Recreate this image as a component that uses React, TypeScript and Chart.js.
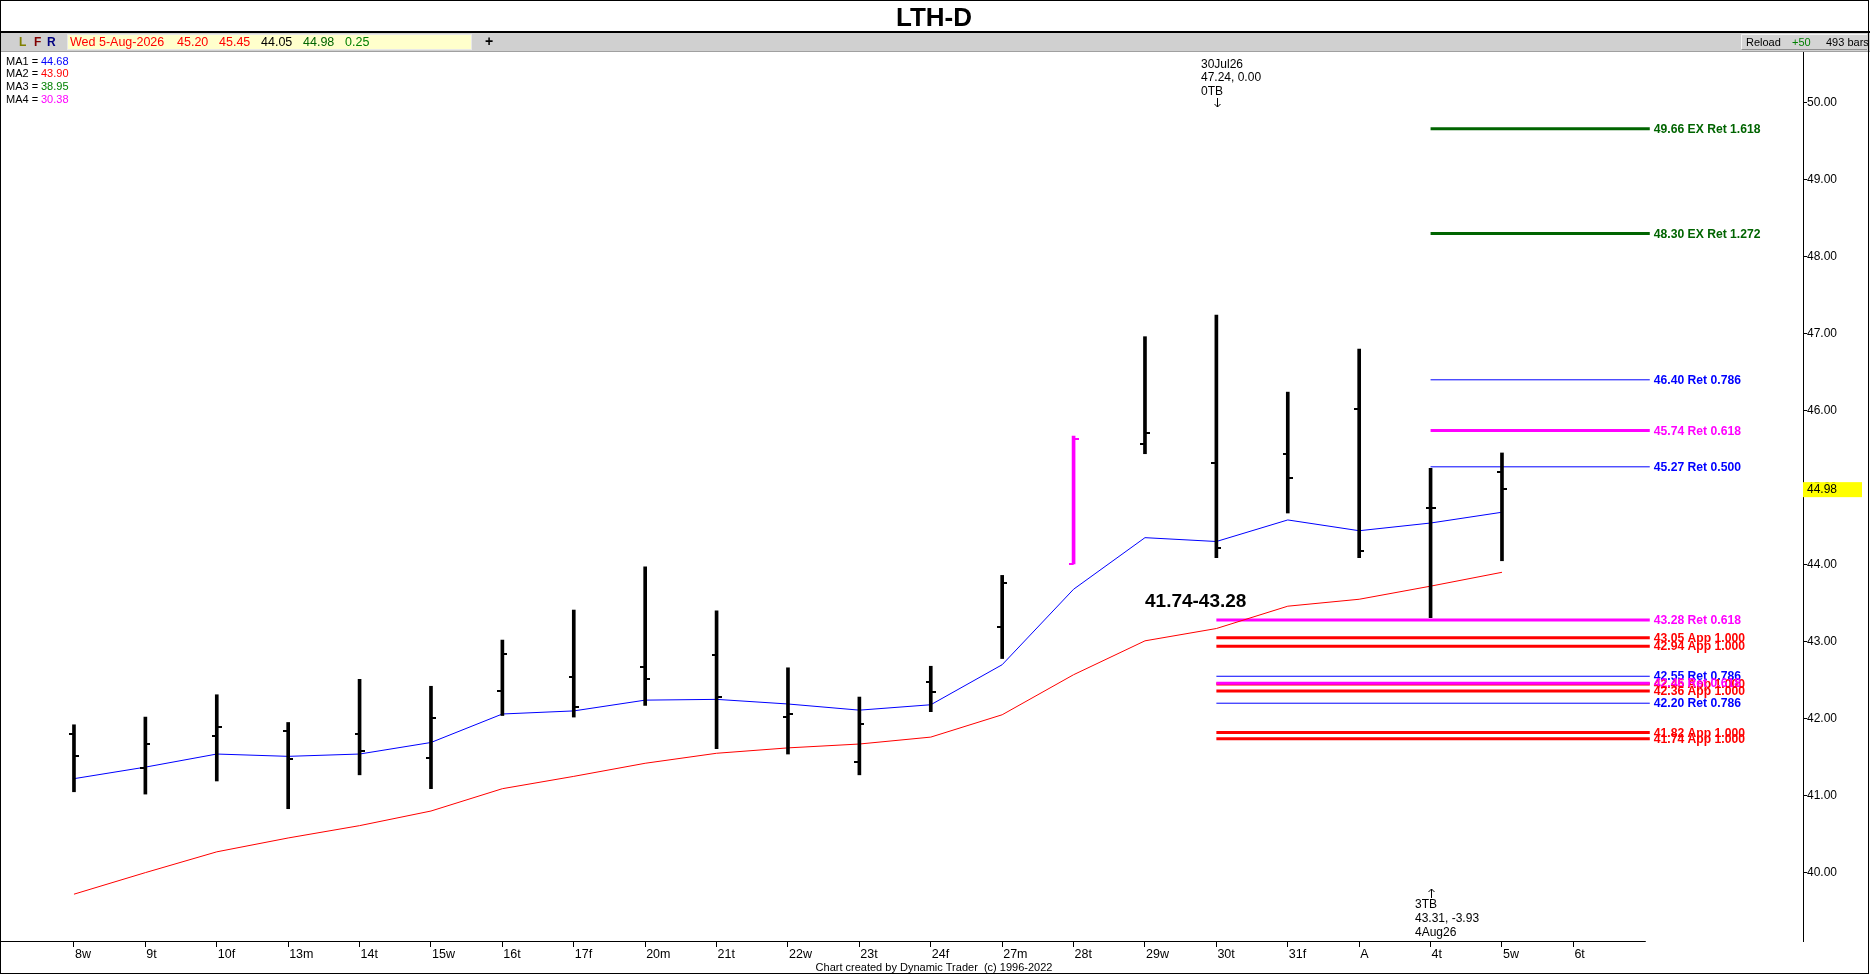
import React, { useEffect, useRef } from 'react';
import { Chart, registerables } from 'chart.js';

Chart.register(...registerables);

// ---------- data ----------
const dayLabels = ['8w', '9t', '10f', '13m', '14t', '15w', '16t', '17f', '20m', '21t', '22w', '23t', '24f', '27m', '28t', '29w', '30t', '31f', 'A', '4t', '5w', '6t'];
const opens = [41.80, 41.36, 41.77, 41.84, 41.80, 41.49, 42.36, 42.54, 42.67, 42.82, 42.02, 41.44, 42.47, 43.19, 44.01, 45.56, 45.32, 45.44, 46.02, 44.74, 45.20];
const highs = [41.92, 42.02, 42.31, 41.95, 42.51, 42.42, 43.02, 43.41, 43.97, 43.40, 42.66, 42.28, 42.68, 43.86, 45.67, 46.96, 47.24, 46.24, 46.80, 45.25, 45.45];
const lows = [41.05, 41.02, 41.19, 40.83, 41.27, 41.09, 42.04, 42.02, 42.17, 41.61, 41.54, 41.27, 42.09, 42.78, 44.01, 45.44, 44.09, 44.67, 44.09, 43.31, 44.05];
const closes = [41.51, 41.67, 41.89, 41.48, 41.58, 42.01, 42.84, 42.15, 42.52, 42.28, 42.06, 41.93, 42.34, 43.76, 45.63, 45.71, 44.21, 45.12, 44.18, 44.73, 44.98];
const ma1 = [41.22, 41.37, 41.54, 41.51, 41.54, 41.69, 42.06, 42.10, 42.24, 42.25, 42.19, 42.11, 42.18, 42.70, 43.68, 44.35, 44.30, 44.58, 44.44, 44.54, 44.68];
const ma2 = [39.72, 40.00, 40.27, 40.45, 40.61, 40.80, 41.09, 41.25, 41.42, 41.55, 41.62, 41.67, 41.76, 42.05, 42.57, 43.01, 43.17, 43.46, 43.55, 43.72, 43.90];
const highlightDay = '28t';

const yTicks = [40, 41, 42, 43, 44, 45, 46, 47, 48, 49, 50];

const fibPrices = [49.66, 48.30, 46.40, 45.74, 45.27, 43.28, 43.05, 42.94, 42.55, 42.45, 42.46, 42.36, 42.20, 41.82, 41.74];
const fibKinds = ['EX Ret', 'EX Ret', 'Ret', 'Ret', 'Ret', 'Ret', 'App', 'App', 'Ret', 'App', 'Ret', 'App', 'Ret', 'App', 'App'];
const fibRatios = ['1.618', '1.272', '0.786', '0.618', '0.500', '0.618', '1.000', '1.000', '0.786', '1.000', '0.618', '1.000', '0.786', '1.000', '1.000'];
const fibStartDays = ['4t', '4t', '4t', '4t', '4t', '30t', '30t', '30t', '30t', '30t', '30t', '30t', '30t', '30t', '30t'];

const maNames = ['MA1', 'MA2', 'MA3', 'MA4'];
const maValues = ['44.68', '43.90', '38.95', '30.38'];

const titleText = 'LTH-D';
const headerDate = 'Wed 5-Aug-2026';
const headerValues = ['45.20', '45.45', '44.05', '44.98', '0.25'];
const rangeText = '41.74-43.28';
const topNote = ['30Jul26', '47.24, 0.00', '0TB'];
const bottomNote = ['3TB', '43.31, -3.93', '4Aug26'];
const lastPrice = '44.98';
const footerText = 'Chart created by Dynamic Trader  (c) 1996-2022';

// ---------- layout constants ----------
const W = 1870;
const H = 974;
const X_MIN = -1.036;
const X_MAX = 24.216;
const Y_MIN = 39.112;
const Y_MAX = 50.657;
const FIB_END = 22.07;
const FONT = "Arial, 'Liberation Sans', sans-serif";

function fibStyle(kind: string, ratio: string) {
  if (kind === 'EX Ret') return { color: '#006400', width: 3, order: 11 };
  if (kind === 'App') return { color: '#ff0000', width: 3, order: 12 };
  if (ratio === '0.618') return { color: '#ff00ff', width: 3, order: 10 };
  return { color: '#0000ff', width: 1, order: 10 };
}

function makeTick(color: string, side: 'left' | 'right') {
  const c = document.createElement('canvas');
  c.width = 10;
  c.height = 2;
  const g = c.getContext('2d')!;
  g.fillStyle = color;
  if (side === 'left') g.fillRect(0, 0, 5, 2);
  else g.fillRect(5, 0, 5, 2);
  return c;
}

export default function App() {
  const ref = useRef<HTMLCanvasElement | null>(null);

  useEffect(() => {
    const canvas = ref.current;
    if (!canvas) return;
    const hiIdx = dayLabels.indexOf(highlightDay);
    const barColor = (i: number) => (i === hiIdx ? '#ff00ff' : '#000000');
    const openBlack = makeTick('#000', 'left');
    const openMag = makeTick('#ff00ff', 'left');
    const closeBlack = makeTick('#000', 'right');
    const closeMag = makeTick('#ff00ff', 'right');

    const datasets: any[] = [];
    datasets.push({
      type: 'line',
      showLine: false,
      data: opens.map((v, i) => ({ x: i, y: v })),
      pointStyle: (ctx: any) => (ctx.dataIndex === hiIdx ? openMag : openBlack),
      pointRadius: 3,
      order: 0,
    });
    datasets.push({
      type: 'line',
      showLine: false,
      data: closes.map((v, i) => ({ x: i, y: v })),
      pointStyle: (ctx: any) => (ctx.dataIndex === hiIdx ? closeMag : closeBlack),
      pointRadius: 3,
      order: 0,
    });
    datasets.push({
      type: 'bar',
      data: opens.map((_, i) => ({ x: i, y: [lows[i], highs[i]] })),
      backgroundColor: opens.map((_, i) => barColor(i)),
      borderWidth: 0,
      barThickness: 3,
      grouped: false,
      order: 1,
    });
    datasets.push({
      type: 'line',
      data: ma1.map((v, i) => ({ x: i, y: v })),
      borderColor: '#0000ff',
      borderWidth: 1,
      pointRadius: 0,
      tension: 0,
      order: 2,
    });
    datasets.push({
      type: 'line',
      data: ma2.map((v, i) => ({ x: i, y: v })),
      borderColor: '#ff0000',
      borderWidth: 1,
      pointRadius: 0,
      tension: 0,
      order: 2,
    });
    fibPrices.forEach((p, k) => {
      const st = fibStyle(fibKinds[k], fibRatios[k]);
      const s = dayLabels.indexOf(fibStartDays[k]);
      datasets.push({
        type: 'line',
        data: [{ x: s, y: p }, { x: FIB_END, y: p }],
        borderColor: st.color,
        borderWidth: st.width,
        pointRadius: 0,
        order: st.order,
      });
    });

    const annot = {
      id: 'annot',
      beforeDraw(chart: any) {
        const c = chart.ctx;
        c.save();
        c.fillStyle = '#ffffff';
        c.fillRect(0, 0, W, H);
        c.restore();
      },
      afterDraw(chart: any) {
        const c: CanvasRenderingContext2D = chart.ctx;
        const xs = chart.scales.x;
        const ys = chart.scales.y;
        c.save();
        // title band
        c.fillStyle = '#ffffff';
        c.fillRect(0, 0, W, 31);
        c.fillStyle = '#000';
        c.font = `bold 26px ${FONT}`;
        c.textAlign = 'center';
        c.textBaseline = 'middle';
        c.fillText(titleText, 934, 19);
        c.fillRect(0, 31, W, 2);
        // gray bar
        c.fillStyle = '#d0d0d0';
        c.fillRect(0, 33, W, 19);
        c.fillStyle = '#a0a0a0';
        c.fillRect(0, 51, W, 1);
        c.textAlign = 'left';
        c.font = `bold 12px ${FONT}`;
        c.fillStyle = '#808000';
        c.fillText('L', 19, 42.5);
        c.fillStyle = '#800000';
        c.fillText('F', 34, 42.5);
        c.fillStyle = '#000080';
        c.fillText('R', 47, 42.5);
        c.fillStyle = '#ffffcc';
        c.fillRect(67, 34, 405, 16);
        c.strokeStyle = '#e8e8e8';
        c.lineWidth = 1;
        c.strokeRect(67.5, 34.5, 404, 15);
        c.font = `12.5px ${FONT}`;
        c.fillStyle = '#ff0000';
        c.fillText(headerDate, 70, 43);
        const hx = [177, 219, 261, 303, 345];
        const hc = ['#ff0000', '#ff0000', '#000000', '#006400', '#008000'];
        headerValues.forEach((t, i) => {
          c.fillStyle = hc[i];
          c.fillText(t, hx[i], 43);
        });
        c.fillStyle = '#000';
        c.font = `bold 14px ${FONT}`;
        c.textAlign = 'center';
        c.fillText('+', 489, 42);
        // right status box
        c.fillStyle = '#d4d4d4';
        c.fillRect(1741, 34, 126, 16);
        c.strokeStyle = '#f4f4f4';
        c.beginPath();
        c.moveTo(1741.5, 50);
        c.lineTo(1741.5, 34.5);
        c.lineTo(1867, 34.5);
        c.stroke();
        c.strokeStyle = '#909090';
        c.beginPath();
        c.moveTo(1741.5, 49.5);
        c.lineTo(1867, 49.5);
        c.stroke();
        c.textAlign = 'left';
        c.font = `11px ${FONT}`;
        c.fillStyle = '#000';
        c.fillText('Reload', 1746, 43);
        c.fillStyle = '#008000';
        c.fillText('+50', 1792, 43);
        c.fillStyle = '#000';
        c.fillText('493 bars', 1826, 43);
        // MA legend
        const maColors = ['#0000ff', '#ff0000', '#008000', '#ff00ff'];
        const my = [61.5, 74, 87, 100];
        c.font = `11px ${FONT}`;
        maNames.forEach((n, i) => {
          c.fillStyle = '#000';
          c.fillText(n + ' =', 6, my[i]);
          c.fillStyle = maColors[i];
          c.fillText(maValues[i], 41, my[i]);
        });
        // top note
        c.fillStyle = '#000';
        c.font = `12px ${FONT}`;
        const ny = [64.5, 78, 91.5];
        topNote.forEach((t, i) => c.fillText(t, 1201, ny[i]));
        c.strokeStyle = '#000';
        c.lineWidth = 1;
        c.beginPath();
        c.moveTo(1217.5, 98);
        c.lineTo(1217.5, 107);
        c.moveTo(1214.5, 104);
        c.lineTo(1217.5, 107);
        c.lineTo(1220.5, 104);
        c.stroke();
        // bottom note
        const by = [905, 919, 933];
        bottomNote.forEach((t, i) => c.fillText(t, 1415, by[i]));
        c.beginPath();
        c.moveTo(1431.5, 889);
        c.lineTo(1431.5, 898);
        c.moveTo(1428.5, 892);
        c.lineTo(1431.5, 889);
        c.lineTo(1434.5, 892);
        c.stroke();
        // range label
        c.font = `bold 19px ${FONT}`;
        c.fillText(rangeText, 1145, 602);
        // fib labels (slightly condensed bold)
        c.font = `bold 13.5px ${FONT}`;
        const lx = xs.getPixelForValue(FIB_END) + 4;
        fibPrices.forEach((p, k) => {
          const st = fibStyle(fibKinds[k], fibRatios[k]);
          c.fillStyle = st.color;
          c.save();
          c.translate(lx, ys.getPixelForValue(p) + 0.5);
          c.scale(0.9, 1);
          c.fillText(`${p.toFixed(2)} ${fibKinds[k]} ${fibRatios[k]}`, 0, 0);
          c.restore();
        });
        // last price box
        const py = ys.getPixelForValue(Number(lastPrice));
        c.fillStyle = '#ffff00';
        c.fillRect(1803, py - 7, 59, 15);
        c.fillStyle = '#000';
        c.font = `12px ${FONT}`;
        c.fillText(lastPrice, 1807, py + 1);
        // x axis line
        c.fillRect(0, 941, xs.getPixelForValue(FIB_END) - 4, 1);
        // footer
        c.font = `11px ${FONT}`;
        c.textAlign = 'center';
        c.fillText(footerText, 934, 968);
        // outer border
        c.strokeStyle = '#000';
        c.lineWidth = 1;
        c.strokeRect(0.5, 0.5, 1868, 973);
        c.restore();
      },
    };

    const chart = new Chart(canvas, {
      type: 'bar',
      data: { datasets } as any,
      options: {
        animation: false,
        responsive: false,
        devicePixelRatio: 1,
        events: [],
        layout: { autoPadding: false, padding: { top: 52, left: 0, right: 0, bottom: 0 } },
        plugins: { legend: { display: false }, tooltip: { enabled: false }, title: { display: false } },
        scales: {
          x: {
            type: 'linear',
            position: 'bottom',
            min: X_MIN,
            max: X_MAX,
            offset: false,
            afterFit: (s: any) => {
              s.height = 33;
              s.paddingLeft = 0;
              s.paddingRight = 0;
            },
            afterBuildTicks: (s: any) => {
              s.ticks = dayLabels.map((_, i) => ({ value: i }));
            },
            ticks: {
              callback: (v: any) => dayLabels[Number(v)] ?? '',
              align: 'start',
              labelOffset: 1,
              padding: 0,
              autoSkip: false,
              maxRotation: 0,
              minRotation: 0,
              color: '#000',
              font: { family: FONT, size: 12.5 },
            },
            grid: { drawOnChartArea: false, drawTicks: true, tickLength: 6, color: '#000', lineWidth: 1, offset: false },
            border: { display: false },
          },
          y: {
            type: 'linear',
            position: 'right',
            min: Y_MIN,
            max: Y_MAX,
            beginAtZero: false,
            afterFit: (s: any) => {
              s.width = 67;
            },
            afterBuildTicks: (s: any) => {
              s.ticks = yTicks.map((v) => ({ value: v }));
            },
            ticks: {
              callback: (v: any) => Number(v).toFixed(2),
              padding: 0,
              color: '#000',
              font: { family: FONT, size: 12 },
            },
            grid: { drawOnChartArea: false, drawTicks: true, tickLength: 4, color: '#000' },
            border: { display: true, color: '#000', width: 1 },
          },
        },
      } as any,
      plugins: [annot],
    });
    return () => chart.destroy();
  }, []);

  return (
    <div style={{ position: 'fixed', left: 0, top: 0, width: W, height: H, background: '#fff' }}>
      <canvas ref={ref} width={W} height={H} style={{ display: 'block' }} />
    </div>
  );
}
